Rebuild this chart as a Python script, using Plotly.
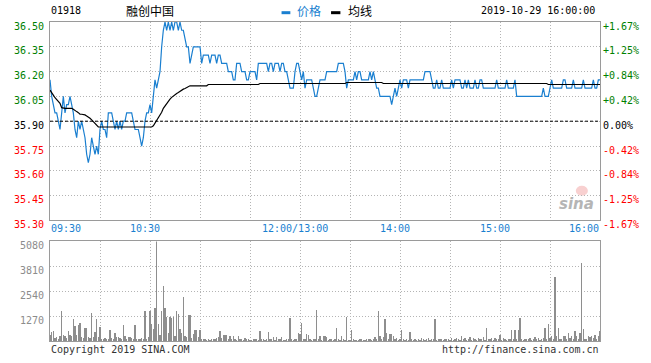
import plotly.graph_objects as go

# ---------------- data ----------------
stock_code = "01918"
stock_name = "融创中国"
timestamp = "2019-10-29 16:00:00"
prev_close = 35.90

# one value per minute: 09:30 ... 12:00/13:00 ... 16:00  (index 150 = 12:00/13:00)
price = [
    36.15, 36.05, 36.00, 35.95, 35.95, 35.90, 35.85, 35.95, 36.05, 35.95,
    36.00, 36.00, 36.05, 36.00, 35.95, 35.85, 35.80, 35.90, 35.85, 35.90,
    35.85, 35.80, 35.70, 35.65, 35.70, 35.80, 35.75, 35.70, 35.75, 35.70,
    35.85, 35.90, 35.85, 35.85, 35.80, 35.95, 35.95, 35.95, 35.90, 35.85,
    35.90, 35.85, 35.90, 35.85, 35.90, 35.90, 35.95, 35.95, 35.95, 35.95,
    35.90, 35.85, 35.85, 35.85, 35.80, 35.75, 35.80, 35.90, 35.95, 35.95,
    36.00, 35.95, 36.05, 36.15, 36.10, 36.15, 36.20, 36.35, 36.45, 36.50,
    36.45, 36.50, 36.45, 36.50, 36.45, 36.50, 36.50, 36.45, 36.50, 36.45,
    36.45, 36.40, 36.35, 36.35, 36.25, 36.30, 36.35, 36.35, 36.35, 36.35,
    36.35, 36.25, 36.30, 36.30, 36.30, 36.30, 36.25, 36.30, 36.30, 36.30,
    36.25, 36.30, 36.30, 36.25, 36.25, 36.25, 36.25, 36.20, 36.20, 36.20,
    36.15, 36.15, 36.25, 36.25, 36.25, 36.20, 36.20, 36.20, 36.15, 36.15,
    36.20, 36.20, 36.20, 36.20, 36.15, 36.25, 36.25, 36.25, 36.25, 36.25,
    36.25, 36.20, 36.25, 36.25, 36.20, 36.25, 36.25, 36.25, 36.20, 36.25,
    36.25, 36.20, 36.20, 36.15, 36.10, 36.10, 36.10, 36.20, 36.25, 36.25,
    36.20, 36.15, 36.20, 36.10, 36.15, 36.15, 36.15, 36.15, 36.10, 36.05,
    36.05, 36.10, 36.15, 36.15, 36.15, 36.15, 36.20, 36.20, 36.20, 36.20,
    36.20, 36.20, 36.20, 36.25, 36.25, 36.25, 36.25, 36.20, 36.10, 36.15,
    36.15, 36.15, 36.15, 36.20, 36.15, 36.20, 36.20, 36.15, 36.15, 36.15,
    36.15, 36.15, 36.20, 36.15, 36.20, 36.15, 36.10, 36.10, 36.05, 36.05,
    36.05, 36.05, 36.05, 36.05, 36.05, 36.00, 36.05, 36.10, 36.05, 36.10,
    36.15, 36.10, 36.15, 36.15, 36.15, 36.10, 36.15, 36.15, 36.15, 36.15,
    36.15, 36.15, 36.15, 36.15, 36.15, 36.20, 36.20, 36.20, 36.20, 36.15,
    36.10, 36.10, 36.15, 36.10, 36.10, 36.15, 36.10, 36.10, 36.10, 36.10,
    36.10, 36.15, 36.10, 36.15, 36.15, 36.15, 36.15, 36.10, 36.10, 36.15,
    36.10, 36.15, 36.10, 36.10, 36.10, 36.15, 36.10, 36.10, 36.15, 36.15,
    36.10, 36.10, 36.10, 36.10, 36.10, 36.10, 36.10, 36.10, 36.15, 36.10,
    36.10, 36.10, 36.10, 36.10, 36.15, 36.10, 36.10, 36.10, 36.10, 36.15,
    36.05, 36.05, 36.05, 36.05, 36.05, 36.05, 36.05, 36.05, 36.05, 36.05,
    36.05, 36.05, 36.05, 36.05, 36.05, 36.05, 36.10, 36.05, 36.05, 36.05,
    36.10, 36.15, 36.10, 36.10, 36.10, 36.10, 36.10, 36.10, 36.15, 36.15,
    36.10, 36.10, 36.10, 36.10, 36.15, 36.10, 36.10, 36.10, 36.10, 36.10,
    36.15, 36.10, 36.10, 36.10, 36.10, 36.10, 36.15, 36.10, 36.10, 36.15,
    36.15,
]

avg_price = [
    36.088, 36.068, 36.058, 36.042, 36.032, 36.022, 36.008, 35.982, 35.978, 35.978,
    35.978, 35.978, 35.978, 35.978, 35.972, 35.962, 35.958, 35.952, 35.942, 35.942,
    35.942, 35.938, 35.932, 35.926, 35.918, 35.908, 35.898, 35.882, 35.872, 35.865,
    35.865, 35.865, 35.865, 35.865, 35.865, 35.865, 35.865, 35.865, 35.865, 35.865,
    35.865, 35.865, 35.865, 35.865, 35.865, 35.865, 35.865, 35.865, 35.865, 35.865,
    35.865, 35.865, 35.865, 35.865, 35.865, 35.865, 35.865, 35.865, 35.865, 35.865,
    35.865, 35.865, 35.872, 35.888, 35.902, 35.918, 35.938, 35.954, 35.978, 35.994,
    36.008, 36.022, 36.034, 36.044, 36.054, 36.062, 36.068, 36.074, 36.082, 36.088,
    36.094, 36.098, 36.104, 36.108, 36.114, 36.114, 36.114, 36.114, 36.114, 36.114,
    36.114, 36.114, 36.114, 36.114, 36.114, 36.122, 36.122, 36.122, 36.122, 36.122,
    36.122, 36.122, 36.122, 36.122, 36.122, 36.122, 36.122, 36.122, 36.122, 36.122,
    36.122, 36.122, 36.122, 36.122, 36.122, 36.122, 36.122, 36.122, 36.122, 36.122,
    36.122, 36.122, 36.122, 36.122, 36.122, 36.122, 36.128, 36.128, 36.128, 36.128,
    36.128, 36.128, 36.128, 36.128, 36.128, 36.128, 36.128, 36.128, 36.128, 36.128,
    36.128, 36.128, 36.128, 36.128, 36.128, 36.128, 36.128, 36.128, 36.128, 36.128,
    36.128, 36.128, 36.128, 36.128, 36.128, 36.128, 36.128, 36.128, 36.128, 36.128,
    36.128, 36.128, 36.128, 36.128, 36.128, 36.128, 36.128, 36.128, 36.128, 36.128,
    36.128, 36.128, 36.128, 36.128, 36.128, 36.128, 36.128, 36.128, 36.134, 36.134,
    36.134, 36.134, 36.134, 36.134, 36.134, 36.134, 36.134, 36.134, 36.134, 36.134,
    36.134, 36.134, 36.134, 36.134, 36.134, 36.134, 36.134, 36.134, 36.134, 36.134,
    36.128, 36.128, 36.128, 36.128, 36.128, 36.128, 36.128, 36.128, 36.128, 36.128,
    36.128, 36.128, 36.128, 36.128, 36.128, 36.128, 36.128, 36.128, 36.128, 36.128,
    36.128, 36.128, 36.128, 36.128, 36.128, 36.128, 36.128, 36.128, 36.128, 36.128,
    36.128, 36.128, 36.128, 36.128, 36.128, 36.128, 36.128, 36.128, 36.128, 36.128,
    36.128, 36.128, 36.128, 36.128, 36.128, 36.128, 36.128, 36.128, 36.128, 36.128,
    36.128, 36.128, 36.128, 36.128, 36.128, 36.128, 36.128, 36.128, 36.128, 36.128,
    36.128, 36.128, 36.128, 36.128, 36.128, 36.128, 36.128, 36.128, 36.128, 36.128,
    36.128, 36.128, 36.128, 36.128, 36.128, 36.128, 36.128, 36.128, 36.128, 36.128,
    36.128, 36.128, 36.128, 36.128, 36.128, 36.128, 36.128, 36.128, 36.128, 36.128,
    36.128, 36.128, 36.128, 36.128, 36.128, 36.128, 36.128, 36.128, 36.128, 36.122,
    36.122, 36.122, 36.122, 36.122, 36.122, 36.122, 36.122, 36.122, 36.122, 36.122,
    36.122, 36.122, 36.122, 36.122, 36.122, 36.122, 36.122, 36.122, 36.122, 36.122,
    36.122, 36.122, 36.122, 36.122, 36.122, 36.122, 36.122, 36.122, 36.122, 36.122,
    36.122,
]

volume = [
    300, 460, 500, 150, 200, 120, 250, 1520, 290, 280,
    150, 510, 300, 250, 1100, 760, 300, 800, 930, 200,
    170, 680, 645, 180, 160, 1440, 200, 460, 1135, 220,
    730, 120, 100, 150, 90, 110, 540, 150, 120, 390,
    200, 220, 140, 90, 800, 250, 120, 220, 180, 150,
    100, 800, 80, 120, 90, 150, 100, 1520, 120, 180,
    1520, 850, 590, 1690, 5080, 850, 290, 1520, 2790, 1660,
    1235, 400, 1200, 1150, 1200, 250, 1555, 1400, 590, 420,
    2250, 250, 180, 1320, 1340, 150, 340, 540, 540, 200,
    540, 120, 100, 80, 60, 90, 70, 80, 120, 100,
    150, 200, 510, 150, 290, 320, 300, 120, 250, 100,
    250, 90, 60, 250, 80, 100, 60, 150, 90, 80,
    70, 60, 100, 120, 80, 60, 510, 90, 80, 60,
    120, 460, 100, 80, 180, 60, 220, 80, 100, 200,
    70, 60, 90, 100, 1150, 80, 60, 120, 90, 420,
    350, 930, 100, 80, 340, 300, 90, 60, 80, 100,
    1560, 80, 230, 70, 230, 230, 200, 60, 90, 120,
    60, 80, 645, 90, 60, 230, 80, 60, 1235, 70,
    60, 540, 80, 60, 70, 60, 80, 90, 60, 70,
    100, 80, 120, 60, 90, 180, 80, 1510, 230, 90,
    180, 1135, 420, 100, 370, 340, 250, 80, 170, 60,
    90, 540, 80, 60, 90, 70, 475, 80, 60, 100,
    70, 120, 60, 170, 90, 60, 80, 170, 60, 90,
    80, 1100, 60, 120, 80, 90, 60, 120, 80, 100,
    70, 150, 60, 90, 170, 80, 60, 250, 90, 170,
    60, 80, 200, 70, 150, 120, 60, 170, 90, 80,
    200, 60, 645, 90, 80, 150, 60, 170, 100, 80,
    290, 70, 150, 90, 60, 120, 80, 540, 100, 540,
    80, 540, 1185, 100, 60, 120, 80, 90, 150, 60,
    100, 200, 80, 150, 60, 120, 170, 680, 100, 850,
    150, 250, 120, 3270, 230, 645, 100, 80, 230, 250,
    120, 390, 150, 230, 100, 510, 250, 120, 390, 4000,
    590, 100, 80, 230, 200, 230, 150, 290, 120, 250,
    510,
]

price_ticks = [36.50, 36.35, 36.20, 36.05, 35.90, 35.75, 35.60, 35.45, 35.30]
price_labels = ["36.50", "36.35", "36.20", "36.05", "35.90", "35.75", "35.60", "35.45", "35.30"]
pct_labels = ["+1.67%", "+1.25%", "+0.84%", "+0.42%", "0.00%", "-0.42%", "-0.84%", "-1.25%", "-1.67%"]
vol_ticks = [1270, 2540, 3810, 5080]
vol_labels = ["1270", "2540", "3810", "5080"]
time_labels = ["09:30", "10:30", "12:00/13:00", "14:00", "15:00", "16:00"]
time_index = [0, 60, 150, 210, 270, 330]

# ---------------- styling ----------------
BLUE = "#1a7fd0"
GREEN = "#008000"
RED = "#ff0000"
GRID = "#b4b4b4"
BORDER = "#9a9a9a"
MONO = "DejaVu Sans Mono"
CJK = "Noto Sans CJK SC"

idx = list(range(len(price)))
n_last = idx[-1]


def colour_for(p):
    if p > prev_close + 1e-9:
        return GREEN
    if p < prev_close - 1e-9:
        return RED
    return "#000000"


left_text = [f"<span style='color:{colour_for(p)}'>{t}</span>" for p, t in zip(price_ticks, price_labels)]
right_text = [f"<span style='color:{colour_for(p)}'>{t}</span>" for p, t in zip(price_ticks, pct_labels)]

fig = go.Figure()
fig.add_trace(go.Scatter(x=idx, y=price, mode="lines", line=dict(color=BLUE, width=1.2),
                         xaxis="x", yaxis="y", hoverinfo="skip", name="价格"))
fig.add_trace(go.Scatter(x=idx, y=avg_price, mode="lines", line=dict(color="#000000", width=1.2),
                         xaxis="x", yaxis="y", hoverinfo="skip", name="均线"))
fig.add_trace(go.Scatter(x=[idx[0], n_last], y=[prev_close, prev_close], mode="lines",
                         line=dict(color="#000000", width=1, dash="3px,2px"),
                         xaxis="x", yaxis="y2", hoverinfo="skip"))
fig.add_trace(go.Bar(x=idx, y=volume, width=0.65, marker=dict(color="#8e8e8e", line=dict(width=0)),
                     xaxis="x2", yaxis="y3", hoverinfo="skip"))

grid_common = dict(showgrid=True, gridcolor=GRID, griddash="1px,2px", gridwidth=1,
                   showline=True, linecolor=BORDER, linewidth=1, mirror=True,
                   zeroline=False, ticks="", fixedrange=True, automargin=False)

PRICE_BOTTOM = 0.378
VOL_TOP = 0.312

fig.update_layout(
    width=651, height=363,
    margin=dict(l=50, r=51, t=22, b=22, pad=0),
    paper_bgcolor="#ffffff", plot_bgcolor="#ffffff",
    showlegend=False,
    hovermode=False,
    font=dict(family=MONO, size=10, color="#000000"),
    xaxis=dict(domain=[0, 1], range=[0, n_last], anchor="y",
               tickmode="array", tickvals=list(range(0, n_last + 1, 30)),
               showticklabels=False, **grid_common),
    yaxis=dict(domain=[PRICE_BOTTOM, 1], range=[price_ticks[-1], price_ticks[0]], anchor="x",
               tickmode="array", tickvals=price_ticks, ticktext=left_text,
               tickfont=dict(family=MONO, size=10), ticklabelshift=4, ticklabelstandoff=3,
               **grid_common),
    yaxis2=dict(overlaying="y", side="right", anchor="x",
                range=[price_ticks[-1], price_ticks[0]],
                tickmode="array", tickvals=price_ticks, ticktext=right_text,
                tickfont=dict(family=MONO, size=10), ticklabelshift=4, ticklabelstandoff=2,
                showgrid=False, zeroline=False, showline=False, ticks="", fixedrange=True,
                automargin=False),
    xaxis2=dict(domain=[0, 1], range=[0, n_last], anchor="y3",
                tickmode="array", tickvals=list(range(0, n_last + 1, 30)),
                showticklabels=False, **grid_common),
    yaxis3=dict(domain=[0, VOL_TOP], range=[0, vol_ticks[-1]], anchor="x2",
                tickmode="array", tickvals=vol_ticks, ticktext=vol_labels,
                tickfont=dict(family=MONO, size=10, color="#8c8c8c"),
                ticklabelshift=4, ticklabelstandoff=3, **grid_common),
    bargap=0,
)

ann = []
# time labels under the price panel
for i, (t, xi) in enumerate(zip(time_labels, time_index)):
    if i == 0:
        xa, xs = "left", -1
    elif i == len(time_labels) - 1:
        xa, xs = "right", 1
    else:
        xa, xs = "center", -5
    ann.append(dict(x=xi, y=0.3527, xref="x", yref="paper", text=t, showarrow=False,
                    xanchor=xa, yanchor="middle", xshift=xs,
                    font=dict(family=MONO, size=10, color=BLUE)))

# header
ann.append(dict(x=0, y=1.0376, xref="paper", yref="paper", text=stock_code, showarrow=False,
                xanchor="left", yanchor="middle", xshift=-1, font=dict(family=MONO, size=10)))
ann.append(dict(x=0.135, y=1.0376, xref="paper", yref="paper", text=stock_name, showarrow=False,
                xanchor="left", yanchor="middle", font=dict(family=CJK, size=12)))
ann.append(dict(x=0.446, y=1.0376, xref="paper", yref="paper", text="价格", showarrow=False,
                xanchor="left", yanchor="middle", font=dict(family=CJK, size=12, color=BLUE)))
ann.append(dict(x=0.539, y=1.0376, xref="paper", yref="paper", text="均线", showarrow=False,
                xanchor="left", yanchor="middle", font=dict(family=CJK, size=12, color="#000000")))
ann.append(dict(x=0.995, y=1.0376, xref="paper", yref="paper", text=timestamp, showarrow=False,
                xanchor="right", yanchor="middle", font=dict(family=MONO, size=10)))
# footer
ann.append(dict(x=0, y=-0.028, xref="paper", yref="paper", text="Copyright 2019 SINA.COM",
                showarrow=False, xanchor="left", yanchor="middle", xshift=-1,
                font=dict(family=MONO, size=10, color="#333333")))
ann.append(dict(x=1, y=-0.028, xref="paper", yref="paper", text="http://finance.sina.com.cn",
                showarrow=False, xanchor="right", yanchor="middle", xshift=1,
                font=dict(family=MONO, size=10, color="#333333")))
# watermark
ann.append(dict(x=0.993, y=0.43, xref="paper", yref="paper", text="<b><i>sina</i></b>",
                showarrow=False, xanchor="right", yanchor="middle",
                font=dict(family="DejaVu Sans", size=15, color="#b5b5b5")))
fig.update_layout(annotations=ann)

shapes = [
    dict(type="line", xref="paper", yref="paper", x0=0.421, x1=0.437, y0=1.0292, y1=1.0292,
         line=dict(color=BLUE, width=3)),
    dict(type="line", xref="paper", yref="paper", x0=0.511, x1=0.528, y0=1.0292, y1=1.0292,
         line=dict(color="#000000", width=3)),
    dict(type="circle", xref="paper", yref="paper", x0=0.956, x1=0.978, y0=0.455, y1=0.487,
         fillcolor="rgba(240,150,150,0.45)", line=dict(width=0), layer="below"),
]
fig.update_layout(shapes=shapes)

# remove the browser's default 8px page margin so the figure sits at the window origin
fig.write_html("out.html",
               config={"displayModeBar": False, "staticPlot": True},
               post_script="document.body.style.margin='0';document.body.style.overflow='hidden';")
